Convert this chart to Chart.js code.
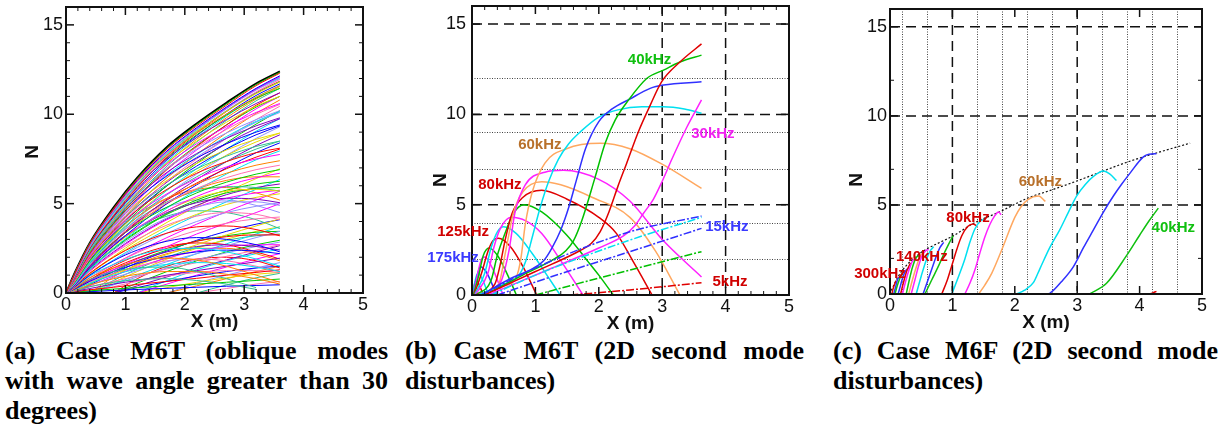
<!DOCTYPE html>
<html>
<head>
<meta charset="utf-8">
<script src="https://cdn.jsdelivr.net/npm/chart.js@4.4.1/dist/chart.umd.min.js"></script>
<style>
body { margin: 0; background: #fff; width: 1228px; height: 428px; position: relative; overflow: hidden; }
canvas { position: absolute; top: 0; }
.cap { position: absolute; top: 336px; font: bold 26px "Liberation Serif", "Times New Roman", serif; color: #000; line-height: 30px; }
.cap div { text-align: justify; text-align-last: justify; white-space: nowrap; }
.cap div.last { text-align: left; text-align-last: left; }
</style>
</head>
<body>
<canvas id="ca" width="400" height="335" style="left:0px"></canvas>
<canvas id="cb" width="410" height="335" style="left:400px"></canvas>
<canvas id="cc" width="418" height="335" style="left:810px"></canvas>

<div class="cap" style="left:5px;width:383px">
  <div>(a) Case M6T (oblique modes</div>
  <div>with wave angle greater than 30</div>
  <div class="last">degrees)</div>
</div>
<div class="cap" style="left:405px;width:399px">
  <div>(b) Case M6T (2D second mode</div>
  <div class="last">disturbances)</div>
</div>
<div class="cap" style="left:833px;width:385px">
  <div>(c) Case M6F (2D second mode</div>
  <div class="last">disturbances)</div>
</div>

<script>
// axes, shared by the three panels
var xTicks = [0, 1, 2, 3, 4, 5];
var yTicks = [0, 5, 10, 15];

// ---- panel (a): oblique modes, all sampled on the same x stations ----
var xA = [0, 0.15, 0.4, 0.8, 1.2, 1.7, 2.2, 2.7, 3.2, 3.6];
var envelopeA = [0, 1.15, 2.8, 4.78, 6.45, 8.17, 9.48, 10.64, 11.72, 12.4];
var upperA = [
    [0, 1.1, 2.75, 4.7, 6.35, 8.05, 9.35, 10.5, 11.6, 12.3],
    [0, 1.12, 2.78, 4.72, 6.4, 8.1, 9.42, 10.58, 11.66, 12.35],
    [0, 1.13, 2.76, 4.68, 6.3, 7.95, 9.25, 10.4, 11.45, 12.15],
    [0, 1.05, 2.7, 4.6, 6.25, 7.9, 9.2, 10.35, 11.4, 12.1],
    [0, 1.06, 2.66, 4.52, 6.12, 7.8, 9.15, 10.35, 11.4, 12.05],
    [0, 1.08, 2.72, 4.62, 6.2, 7.85, 9.05, 10.15, 11.15, 11.8],
    [0, 1.1, 2.7, 4.55, 6.1, 7.7, 8.95, 10.0, 10.95, 11.6],
    [0, 1.0, 2.6, 4.45, 6.05, 7.75, 9.1, 10.3, 11.35, 12.0],
    [0, 1.02, 2.62, 4.48, 6.08, 7.72, 9.02, 10.18, 11.18, 11.82],
    [0, 0.98, 2.55, 4.4, 6.0, 7.65, 9.0, 10.2, 11.25, 11.95],
    [0, 1.05, 2.65, 4.5, 6.0, 7.5, 8.7, 9.7, 10.6, 11.2],
    [0, 0.95, 2.5, 4.3, 5.9, 7.6, 8.95, 10.15, 11.2, 11.85],
    [0, 0.97, 2.52, 4.35, 5.95, 7.55, 8.85, 9.95, 10.9, 11.45],
    [0, 0.92, 2.48, 4.25, 5.8, 7.45, 8.8, 10.0, 11.05, 11.7],
    [0, 1.0, 2.55, 4.3, 5.75, 7.2, 8.35, 9.3, 10.1, 10.6],
    [0, 0.9, 2.4, 4.15, 5.7, 7.35, 8.7, 9.9, 10.95, 11.6],
    [0, 0.93, 2.45, 4.22, 5.75, 7.3, 8.5, 9.55, 10.45, 11.0],
    [0, 0.88, 2.38, 4.1, 5.6, 7.25, 8.6, 9.8, 10.85, 11.55],
    [0, 0.95, 2.45, 4.15, 5.55, 6.95, 8.05, 8.95, 9.7, 10.2],
    [0, 0.85, 2.3, 4.0, 5.5, 7.1, 8.45, 9.65, 10.75, 11.45],
    [0, 0.87, 2.33, 4.05, 5.55, 7.0, 8.15, 9.15, 10.0, 10.55],
    [0, 0.9, 2.35, 4.0, 5.4, 6.75, 7.8, 8.65, 9.35, 9.8],
    [0, 0.8, 2.2, 3.85, 5.3, 6.9, 8.2, 9.4, 10.5, 11.2],
    [0, 0.83, 2.25, 3.92, 5.4, 6.95, 8.25, 9.4, 10.4, 11.0],
    [0, 0.9, 2.3, 3.9, 5.25, 6.55, 7.55, 8.35, 9.0, 9.4],
    [0, 0.75, 2.1, 3.7, 5.15, 6.7, 8.0, 9.2, 10.3, 11.0],
    [0, 0.78, 2.15, 3.78, 5.2, 6.6, 7.75, 8.75, 9.6, 10.15],
    [0, 0.85, 2.2, 3.75, 5.05, 6.3, 7.25, 8.0, 8.6, 8.95],
    [0, 0.7, 2.0, 3.55, 4.95, 6.45, 7.75, 8.95, 10.05, 10.8],
    [0, 0.73, 2.05, 3.62, 5.0, 6.45, 7.6, 8.65, 9.55, 10.1],
    [0, 0.8, 2.1, 3.6, 4.85, 6.05, 6.95, 7.65, 8.2, 8.5],
    [0, 0.65, 1.9, 3.4, 4.75, 6.25, 7.5, 8.65, 9.7, 10.45],
    [0, 0.68, 1.95, 3.5, 4.85, 6.2, 7.35, 8.35, 9.2, 9.75],
    [0, 0.75, 2.0, 3.45, 4.65, 5.8, 6.7, 7.35, 7.85, 8.1],
    [0, 0.6, 1.8, 3.25, 4.55, 6.0, 7.25, 8.4, 9.45, 10.2],
    [0, 0.63, 1.85, 3.35, 4.65, 6.0, 7.1, 8.05, 8.85, 9.35],
    [0, 0.7, 1.9, 3.3, 4.45, 5.55, 6.4, 7.05, 7.5, 7.75],
    [0, 0.55, 1.7, 3.1, 4.35, 5.75, 6.95, 8.05, 9.05, 9.75],
    [0, 0.58, 1.75, 3.2, 4.45, 5.75, 6.8, 7.7, 8.45, 8.95],
    [0, 0.65, 1.8, 3.15, 4.25, 5.3, 6.1, 6.7, 7.15, 7.4],
    [0, 0.5, 1.6, 2.95, 4.15, 5.5, 6.65, 7.7, 8.65, 9.3],
    [0, 0.53, 1.65, 3.05, 4.25, 5.5, 6.5, 7.35, 8.05, 8.5],
    [0, 0.6, 1.7, 3.0, 4.05, 5.05, 5.85, 6.45, 6.9, 7.15],
    [0, 0.48, 1.5, 2.8, 3.95, 5.25, 6.35, 7.35, 8.25, 8.85],
    [0, 0.47, 1.5, 2.85, 4.0, 5.2, 6.15, 6.95, 7.6, 8.05],
    [0, 0.55, 1.6, 2.85, 3.85, 4.8, 5.6, 6.2, 6.65, 6.9],
    [0, 0.45, 1.4, 2.65, 3.75, 5.0, 6.05, 7.0, 7.85, 8.4],
    [0, 0.5, 1.5, 2.7, 3.65, 4.6, 5.4, 6.0, 6.45, 6.7],
    [0, 0.42, 1.3, 2.5, 3.55, 4.75, 5.75, 6.65, 7.45, 7.95]
];
var lowerA = [
    [0, 0.5, 1.4, 2.6, 3.6, 4.6, 5.3, 5.7, 5.8, 5.7],
    [0, 0.55, 1.5, 2.8, 3.9, 5.0, 5.8, 6.3, 6.5, 6.5],
    [0, 0.45, 1.3, 2.4, 3.3, 4.2, 4.8, 5.1, 5.1, 4.9],
    [0, 0.6, 1.65, 3.0, 4.1, 5.1, 5.7, 5.95, 5.9, 5.7],
    [0, 0.4, 1.2, 2.2, 3.0, 3.8, 4.3, 4.5, 4.4, 4.1],
    [0, 0.5, 1.45, 2.65, 3.6, 4.5, 5.05, 5.3, 5.25, 5.05],
    [0, 0.4, 1.1, 2.0, 2.7, 3.35, 3.7, 3.75, 3.55, 3.2],
    [0, 0.45, 1.3, 2.45, 3.4, 4.4, 5.1, 5.6, 5.85, 5.9],
    [0, 0.35, 1.0, 1.8, 2.4, 2.9, 3.1, 3.0, 2.7, 2.3],
    [0, 0.4, 1.2, 2.25, 3.15, 4.1, 4.8, 5.3, 5.6, 5.75],
    [0, 0.35, 0.95, 1.6, 2.1, 2.45, 2.5, 2.3, 1.9, 1.5],
    [0, 0.35, 1.05, 2.0, 2.8, 3.7, 4.4, 4.95, 5.35, 5.55],
    [0, 0.3, 0.85, 1.4, 1.75, 1.95, 1.85, 1.5, 1.0, 0.6],
    [0, 0.3, 0.95, 1.8, 2.55, 3.35, 4.0, 4.5, 4.85, 5.05],
    [0, 0.3, 0.75, 1.2, 1.4, 1.45, 1.2, 0.8, 0.3, null],
    [0, 0.28, 0.85, 1.6, 2.25, 2.95, 3.5, 3.9, 4.15, 4.25],
    [0, 0.45, 1.25, 2.3, 3.2, 4.15, 4.9, 5.5, 5.9, 6.1],
    [0, 0.25, 0.75, 1.4, 1.95, 2.5, 2.9, 3.15, 3.25, 3.25],
    [0, 0.5, 1.35, 2.5, 3.45, 4.45, 5.2, 5.75, 6.1, 6.25],
    [0, 0.22, 0.65, 1.2, 1.65, 2.05, 2.3, 2.4, 2.35, 2.2],
    [0, 0.25, 0.7, 1.3, 1.9, 2.6, 3.3, 3.9, 4.5, 5.0],
    [0, 0.2, 0.55, 1.0, 1.35, 1.6, 1.7, 1.65, 1.45, 1.2],
    [0, 0.2, 0.55, 1.05, 1.55, 2.15, 2.7, 3.25, 3.75, 4.15],
    [0, 0.15, 0.45, 0.8, 1.05, 1.2, 1.2, 1.05, 0.8, 0.5],
    [0, 0.15, 0.45, 0.85, 1.25, 1.75, 2.2, 2.65, 3.1, 3.45],
    [0, 0.12, 0.35, 0.6, 0.75, 0.8, 0.7, 0.5, 0.2, null],
    [0, 0.12, 0.35, 0.65, 0.95, 1.35, 1.7, 2.05, 2.4, 2.7],
    [0, 0.1, 0.25, 0.5, 0.7, 1.0, 1.25, 1.5, 1.75, 1.95],
    [0, 0.08, 0.18, 0.32, 0.48, 0.65, 0.82, 1.0, 1.15, 1.3],
    [0, 0.05, 0.12, 0.22, 0.3, 0.4, 0.5, 0.6, 0.7, 0.78],
    [0, 0.03, 0.08, 0.14, 0.2, 0.26, 0.32, 0.38, 0.42, 0.46],
    [0, 0.3, 0.85, 1.6, 2.3, 3.1, 3.85, 4.55, 5.2, 5.7],
    [0, 0.35, 1.0, 1.85, 2.65, 3.55, 4.35, 5.1, 5.8, 6.35],
    [0, 0.38, 1.1, 2.05, 2.95, 3.95, 4.85, 5.65, 6.4, 6.95],
    [0, 0.7, 1.9, 3.3, 4.4, 5.3, 5.8, 5.9, 5.6, 5.2],
    [0, 0.65, 1.75, 3.05, 4.0, 4.8, 5.2, 5.2, 4.9, 4.5],
    [0, 0.6, 1.6, 2.75, 3.6, 4.3, 4.6, 4.5, 4.1, 3.6],
    [0, 0.2, 0.6, 1.1, 1.5, 1.8, 1.9, 1.8, 1.5, 1.2],
    [0, 0.25, 0.7, 1.3, 1.8, 2.3, 2.6, 2.7, 2.6, 2.4],
    [null, 0, 0.7, 1.5, 2.1, 2.6, 2.8, 2.7, 2.3, 1.9],
    [null, 0, 0.5, 1.2, 1.8, 2.4, 2.9, 3.2, 3.4, 3.45],
    [null, 0, 0.45, 1.1, 1.7, 2.35, 2.95, 3.45, 3.85, 4.1],
    [null, 0, 0.4, 0.95, 1.45, 1.95, 2.35, 2.6, 2.7, 2.7],
    [null, null, 0, 0.5, 1.0, 1.6, 2.2, 2.75, 3.3, 3.7],
    [null, null, 0, 0.6, 1.2, 1.9, 2.5, 3.0, 3.45, 3.7],
    [null, null, 0, 0.9, 1.6, 2.2, 2.5, 2.5, 2.2, 1.8],
    [null, null, 0, 0.45, 0.9, 1.4, 1.85, 2.25, 2.6, 2.85],
    [null, null, 0, 0.7, 1.35, 2.0, 2.55, 2.95, 3.2, 3.3],
    [null, null, 0, 0.35, 0.65, 0.95, 1.15, 1.25, 1.25, 1.15],
    [null, null, null, 0, 0.4, 0.9, 1.4, 1.85, 2.3, 2.65],
    [null, null, null, 0, 0.8, 1.5, 1.9, 2.0, 1.8, 1.4],
    [null, null, null, 0, 0.55, 1.2, 1.8, 2.3, 2.7, 2.95],
    [null, null, null, 0, 0.3, 0.65, 0.95, 1.2, 1.4, 1.5],
    [null, null, null, null, 0, 0.5, 1.0, 1.45, 1.9, 2.2],
    [null, null, null, null, 0, 0.7, 1.3, 1.8, 2.2, 2.45],
    [null, null, null, null, 0, 0.3, 0.6, 0.85, 1.05, 1.15],
    [null, null, null, null, null, 0, 0.4, 0.8, 1.2, 1.5],
    [null, null, null, null, null, 0, 0.55, 1.0, 1.4, 1.7],
    [null, null, null, null, null, null, 0, 0.45, 0.85, 1.1],
    [null, null, null, null, null, null, 0, 0.25, 0.5, 0.65]
];
var colorsA = ["#ff0000", "#00cc00", "#0000ff", "#ff00ff", "#00e0f0", "#e8d800", "#ff8000", "#9090ff", "#30c090", "#ff70b0", "#8000c0"];

// ---- panel (b): 2D second mode, M6T, [x, N] points for each frequency ----
var curvesB = [
    [[1.55, 0], [2.49, 0.28], [3.62, 0.68]],
    [[1.0, 0], [1.8, 0.75], [2.49, 1.38], [3.62, 2.4]],
    [[0.4, 0], [1.2, 0.95], [2.49, 2.4], [3.62, 3.69]],
    [[0.3, 0], [1.0, 1.1], [2.49, 3.04], [3.62, 4.3]],
    [[0.15, 0], [1.0, 1.5], [2.49, 3.5], [3.62, 4.37]],
    [[0.25, 0], [1.2, 1.4], [2.0, 2.6], [2.4, 3.3], [2.56, 3.8], [2.7, 4.5], [2.86, 5.3], [3.0, 6.3], [3.15, 7.5], [3.39, 9.3], [3.62, 10.8]],
    [[0.2, 0], [1.0, 1.3], [1.7, 2.45], [1.88, 2.85], [2.02, 3.5], [2.16, 4.6], [2.3, 6.0], [2.44, 7.3], [2.62, 9.0], [2.81, 10.5], [2.99, 11.8], [3.28, 12.9], [3.62, 13.9]],
    [[0.2, 0], [0.8, 1.1], [1.3, 2.0], [1.48, 2.45], [1.6, 3.0], [1.73, 4.1], [1.94, 6.5], [2.1, 8.4], [2.26, 9.7], [2.47, 10.8], [2.76, 12.0], [3.02, 12.45], [3.28, 12.9], [3.62, 13.28]],
    [[0.15, 0], [0.6, 0.9], [0.95, 1.45], [1.13, 1.9], [1.26, 2.6], [1.4, 3.6], [1.53, 4.9], [1.65, 6.4], [1.79, 8.1], [2.0, 9.6], [2.21, 10.3], [2.49, 10.85], [2.81, 11.44], [3.02, 11.62], [3.62, 11.8]],
    [[0.1, 0], [0.5, 0.6], [0.72, 1.0], [0.85, 1.9], [0.95, 3.2], [1.08, 4.9], [1.21, 6.3], [1.36, 7.5], [1.52, 8.35], [1.73, 9.1], [2.0, 9.85], [2.3, 10.25], [2.68, 10.42], [3.02, 10.42], [3.35, 10.3], [3.62, 10.06]],
    [[0.1, 0], [0.5, 0.5], [0.7, 1.0], [0.77, 2.0], [0.84, 3.9], [0.95, 5.7], [1.15, 7.3], [1.49, 8.1], [2.02, 8.4], [2.49, 8.1], [3.02, 7.2], [3.62, 5.9]],
    [[0.1, 0], [0.45, 0.7], [0.58, 2.4], [0.68, 4.6], [0.84, 6.1], [1.15, 6.8], [1.44, 6.9], [2.0, 6.4], [2.49, 5.2], [3.02, 3.0], [3.62, 1.0]],
    [[0.1, 0], [0.42, 0.6], [0.53, 2.4], [0.65, 4.5], [0.8, 5.7], [1.1, 6.27], [1.4, 6.1], [1.9, 5.4], [2.49, 4.3], [2.9, 2.4], [3.28, 0]],
    [[0.08, 0], [0.36, 0.6], [0.44, 1.6], [0.52, 3.0], [0.63, 4.5], [0.8, 5.4], [1.1, 5.8], [1.5, 5.3], [2.0, 4.3], [2.28, 3.4], [2.55, 1.8], [2.84, 0]],
    [[0.06, 0], [0.3, 0.8], [0.4, 2.2], [0.52, 3.4], [0.65, 4.5], [0.82, 5.0], [1.1, 4.6], [1.5, 3.3], [1.81, 1.94], [2.0, 1.1], [2.23, 0]],
    [[0.05, 0], [0.25, 1.2], [0.35, 2.7], [0.45, 3.7], [0.62, 4.3], [0.85, 4.1], [1.1, 3.4], [1.4, 1.9], [1.75, 0]],
    [[0.04, 0], [0.2, 1.2], [0.3, 2.6], [0.4, 3.5], [0.5, 3.78], [0.7, 3.4], [0.95, 2.3], [1.2, 1.0], [1.39, 0]],
    [[0.03, 0], [0.15, 1.2], [0.25, 2.4], [0.33, 3.0], [0.42, 3.14], [0.6, 2.7], [0.8, 1.6], [1.02, 0]],
    [[0.02, 0], [0.1, 1.0], [0.18, 2.2], [0.27, 2.6], [0.4, 2.2], [0.55, 1.2], [0.7, 0]],
    [[0.02, 0], [0.08, 1.0], [0.14, 1.9], [0.2, 2.1], [0.32, 1.5], [0.49, 0]],
    [[0.02, 0], [0.07, 0.9], [0.13, 1.57], [0.22, 1.3], [0.39, 0]],
    [[0.01, 0], [0.05, 0.8], [0.09, 1.2], [0.16, 0.9], [0.26, 0]],
    [[0.01, 0], [0.04, 0.6], [0.07, 0.8], [0.12, 0.5], [0.18, 0]]
];
var colorsB = ["#e00000", "#00c000", "#3030ff", "#00e0f0", "#3030ff", "#ff20ff", "#e00000", "#00c000", "#3030ff",
    "#00e0f0", "#ffa860", "#ff20ff", "#ffa860", "#e00000", "#00c000", "#ff20ff", "#00e0f0", "#e00000", "#00c000",
    "#ff20ff", "#3030ff", "#00e0f0", "#e00000"];
var labelTextB = ["40kHz", "30kHz", "60kHz", "80kHz", "125kHz", "175kHz", "15kHz", "5kHz"];
var labelXB = [2.80, 3.80, 1.07, 0.44, -0.14, -0.30, 4.02, 4.07];
var labelYB = [13.0, 8.91, 8.3, 6.09, 3.49, 2.05, 3.76, 0.72];
var labelColorB = ["#10c010", "#f020f0", "#b8702a", "#d00000", "#d00000", "#3a3aff", "#3a3aff", "#d00000"];

// ---- panel (c): 2D second mode, M6F ----
var envelopeC = [[0.02, 0.2], [0.13, 0.97], [0.25, 1.55], [0.43, 2.15], [0.6, 2.55], [0.8, 2.9], [1.01, 3.26], [1.34, 3.97],
    [1.76, 4.62], [2.22, 5.4], [2.59, 5.84], [3.0, 6.35], [3.39, 6.87], [3.8, 7.4], [4.11, 7.75], [4.81, 8.47]];
var curvesC = [
    [[4.17, 0], [4.22, 0.08], [4.27, 0.15]],
    [[3.2, 0], [3.47, 0.6], [3.79, 2.15], [4.0, 3.3], [4.15, 4.1], [4.3, 4.82]],
    [[2.5, 0], [2.56, 0.04], [2.75, 0.7], [2.94, 1.54], [3.1, 2.6], [3.26, 3.6], [3.42, 4.6], [3.58, 5.5], [3.72, 6.2], [3.85, 6.8], [4.06, 7.7], [4.15, 7.85], [4.27, 7.87]],
    [[2.03, 0], [2.15, 0.2], [2.3, 0.65], [2.4, 1.4], [2.56, 2.6], [2.72, 3.6], [2.86, 4.6], [2.99, 5.5], [3.13, 6.15], [3.26, 6.6], [3.42, 6.9], [3.52, 6.75], [3.63, 6.37]],
    [[1.42, 0], [1.52, 0.5], [1.63, 1.16], [1.79, 2.47], [2.0, 4.3], [2.1, 4.9], [2.21, 5.3], [2.38, 5.5], [2.49, 5.2]],
    [[1.2, 0], [1.28, 0.6], [1.36, 1.35], [1.44, 2.3], [1.52, 3.2], [1.6, 3.9], [1.68, 4.4], [1.74, 4.6], [1.78, 4.45]],
    [[0.99, 0], [1.1, 1.0], [1.2, 1.97], [1.28, 2.9], [1.36, 3.65], [1.45, 4.1], [1.52, 4.2]],
    [[0.83, 0], [0.92, 0.8], [0.99, 1.59], [1.07, 2.5], [1.15, 3.27], [1.25, 3.8], [1.33, 3.93], [1.38, 3.85]],
    [[0.56, 0], [0.67, 0.8], [0.78, 1.59], [0.87, 2.3], [0.94, 2.8], [1.01, 3.27]],
    [[0.53, 0], [0.6, 0.7], [0.67, 1.4], [0.74, 2.1], [0.8, 2.6], [0.86, 2.9]],
    [[0.42, 0], [0.5, 1.0], [0.58, 1.9], [0.64, 2.4], [0.7, 2.65]],
    [[0.34, 0], [0.4, 0.8], [0.46, 1.6], [0.52, 2.2], [0.58, 2.45], [0.62, 2.5]],
    [[0.3, 0], [0.36, 0.8], [0.42, 1.5], [0.48, 2.1], [0.54, 2.35]],
    [[0.26, 0], [0.31, 0.8], [0.36, 1.5], [0.42, 2.05], [0.47, 2.15]],
    [[0.2, 0], [0.25, 0.7], [0.3, 1.3], [0.36, 1.85], [0.42, 2.0]],
    [[0.17, 0], [0.22, 0.7], [0.27, 1.3], [0.33, 1.75]],
    [[0.13, 0], [0.17, 0.5], [0.21, 1.0], [0.26, 1.35], [0.3, 1.45]],
    [[0.08, 0], [0.12, 0.5], [0.16, 0.9], [0.2, 1.15]],
    [[0.06, 0], [0.09, 0.4], [0.12, 0.8], [0.15, 0.95]],
    [[0.03, 0], [0.05, 0.3], [0.08, 0.6], [0.1, 0.75]]
];
var colorsC = ["#e00000", "#10c010", "#3030ff", "#00e0f0", "#ffa860", "#ff20ff", "#00e0f0", "#e00000", "#10c010", "#3030ff",
    "#00e0f0", "#ff20ff", "#ffa860", "#10c010", "#ff20ff", "#e00000", "#3030ff", "#10c010", "#3030ff", "#e00000"];
var labelTextC = ["60kHz", "80kHz", "140kHz", "300kHz", "40kHz"];
var labelXC = [2.41, 1.25, 0.51, -0.16, 4.54];
var labelYC = [6.31, 4.25, 2.1, 1.12, 3.69];
var labelColorC = ["#b8702a", "#d00000", "#d00000", "#d00000", "#10c010"];

var fontSans = '"Liberation Sans", Arial, sans-serif';

function pointLine(points, color, width, dash) {
    return {
        data: points.map(function (p) { return { x: p[0], y: p[1] }; }),
        borderColor: color, borderWidth: width, borderDash: dash || [],
        pointRadius: 0, fill: false, tension: 0.4, cubicInterpolationMode: "monotone"
    };
}

function gridLine(xs, ys) {
    return xs.map(function (x, i) { return { x: x, y: ys[i] }; });
}

// frame, inward ticks, dashed/dotted reference lines and text labels
function decoPlugin(cfg) {
    function seg(ctx, x1, y1, x2, y2) {
        ctx.beginPath(); ctx.moveTo(x1, y1); ctx.lineTo(x2, y2); ctx.stroke();
    }
    return {
        id: "deco",
        beforeDatasetsDraw: function (chart) {
            var ctx = chart.ctx, a = chart.chartArea, sx = chart.scales.x, sy = chart.scales.y;
            ctx.save();
            ctx.strokeStyle = "#444"; ctx.lineWidth = 1; ctx.setLineDash([1, 1.5]);
            (cfg.hDot || []).forEach(function (v) { var p = Math.round(sy.getPixelForValue(v)) + 0.5; seg(ctx, a.left, p, a.right, p); });
            (cfg.vDot || []).forEach(function (v) { var p = Math.round(sx.getPixelForValue(v)) + 0.5; seg(ctx, p, a.top, p, a.bottom); });
            ctx.strokeStyle = "#111"; ctx.lineWidth = 1.5; ctx.setLineDash([10, 6]);
            (cfg.hDash || []).forEach(function (v) { var p = sy.getPixelForValue(v); seg(ctx, a.left, p, a.right, p); });
            (cfg.vDash || []).forEach(function (v) { var p = sx.getPixelForValue(v); seg(ctx, p, a.top, p, a.bottom); });
            ctx.restore();
        },
        afterDatasetsDraw: function (chart) {
            var ctx = chart.ctx, a = chart.chartArea, sx = chart.scales.x, sy = chart.scales.y;
            ctx.save();
            ctx.strokeStyle = "#111"; ctx.lineWidth = 1.5;
            xTicks.forEach(function (v) {
                var p = sx.getPixelForValue(v);
                seg(ctx, p, a.bottom, p, a.bottom - 8); seg(ctx, p, a.top, p, a.top + 8);
            });
            yTicks.forEach(function (v) {
                var p = sy.getPixelForValue(v);
                seg(ctx, a.left, p, a.left + 8, p); seg(ctx, a.right, p, a.right - 8, p);
            });
            ctx.lineWidth = 1;
            (cfg.xMinor || []).forEach(function (v) {
                var p = sx.getPixelForValue(v);
                seg(ctx, p, a.bottom, p, a.bottom - 4); seg(ctx, p, a.top, p, a.top + 4);
            });
            (cfg.yMinor || []).forEach(function (v) {
                var p = sy.getPixelForValue(v);
                seg(ctx, a.left, p, a.left + 4, p); seg(ctx, a.right, p, a.right - 4, p);
            });
            ctx.lineWidth = 2;
            ctx.strokeRect(a.left, a.top, a.right - a.left, a.bottom - a.top);
            ctx.restore();
        },
        afterDraw: function (chart) {
            var ctx = chart.ctx, a = chart.chartArea, sx = chart.scales.x, sy = chart.scales.y;
            ctx.save();
            ctx.textAlign = "center"; ctx.textBaseline = "middle";
            ctx.font = "bold 15px " + fontSans;
            (cfg.labels || []).forEach(function (t, i) {
                ctx.fillStyle = cfg.labelColors[i];
                ctx.fillText(t, sx.getPixelForValue(cfg.labelX[i]), sy.getPixelForValue(cfg.labelY[i]));
            });
            ctx.fillStyle = "#111";
            ctx.font = "bold 19px " + fontSans;
            ctx.fillText("X (m)", (a.left + a.right) / 2, a.bottom + 29);
            ctx.translate(a.left - cfg.nOff, sy.getPixelForValue(cfg.nY));
            ctx.rotate(-Math.PI / 2);
            ctx.fillText("N", 0, 0);
            ctx.restore();
        }
    };
}

function makeChart(id, datasets, cfg) {
    var tickFont = { family: fontSans, size: 18 };
    return new Chart(document.getElementById(id), {
        type: "line",
        data: { datasets: datasets },
        options: {
            responsive: false, animation: false, events: [],
            layout: { padding: { top: cfg.top, right: cfg.right, left: 0, bottom: 0 } },
            plugins: { legend: { display: false }, tooltip: { enabled: false } },
            scales: {
                x: {
                    type: "linear", min: 0, max: 5,
                    grid: { display: false, drawTicks: false }, border: { display: false },
                    afterBuildTicks: function (s) { s.ticks = xTicks.map(function (v) { return { value: v }; }); },
                    afterFit: function (s) { s.height = cfg.xh; s.paddingLeft = 0; s.paddingRight = 0; },
                    ticks: { font: tickFont, color: "#111", padding: 1, maxRotation: 0, autoSkip: false }
                },
                y: {
                    type: "linear", min: 0, max: 16,
                    grid: { display: false, drawTicks: false }, border: { display: false },
                    afterBuildTicks: function (s) { s.ticks = yTicks.map(function (v) { return { value: v }; }); },
                    afterFit: function (s) { s.width = cfg.yw; s.paddingTop = 0; s.paddingBottom = 0; },
                    ticks: { font: tickFont, color: "#111", padding: cfg.ypad, autoSkip: false }
                }
            }
        },
        plugins: [decoPlugin(cfg)]
    });
}

var minorX = [];
for (var m = 1; m < 25; m++) { if (m % 5 !== 0) minorX.push(m / 5); }

// panel (a)
var setsA = [];
upperA.concat(lowerA).forEach(function (ys, i) {
    setsA.push({
        data: gridLine(xA, ys), borderColor: colorsA[i % colorsA.length], borderWidth: 1,
        pointRadius: 0, fill: false, tension: 0.4, cubicInterpolationMode: "monotone", spanGaps: false
    });
});
setsA.push({
    data: gridLine(xA, envelopeA), borderColor: "#000", borderWidth: 2,
    pointRadius: 0, fill: false, tension: 0.4, cubicInterpolationMode: "monotone"
});
makeChart("ca", setsA, {
    top: 7, right: 37, xh: 42, yw: 66, ypad: 3, nOff: 33, nY: 7.9,
    xMinor: minorX, yMinor: [1, 2, 3, 4, 6, 7, 8, 9, 11, 12, 13, 14, 16]
});

// panel (b)
var setsB = curvesB.map(function (pts, i) {
    return pointLine(pts, colorsB[i], 1.5, i < 5 ? [8, 2, 2, 2] : []);
});
makeChart("cb", setsB, {
    top: 6, right: 21, xh: 40, yw: 72, ypad: 6, nOff: 31, nY: 6.36,
    hDash: [5, 10, 15], hDot: [2, 4, 7, 9, 12], vDash: [3, 4], xMinor: minorX,
    labels: labelTextB, labelX: labelXB, labelY: labelYB, labelColors: labelColorB
});

// panel (c)
var setsC = curvesC.map(function (pts, i) { return pointLine(pts, colorsC[i], 1.5); });
setsC.push(pointLine(envelopeC, "#111", 1.2, [2, 2]));
makeChart("cc", setsC, {
    top: 9, right: 26, xh: 41, yw: 80, ypad: 3, nOff: 33, nY: 6.4,
    hDash: [5, 10, 15], vDash: [1, 3], vDot: [0.2, 0.6, 1.4, 1.8, 2.2, 2.6, 3.4, 3.8, 4.2, 4.6], yMinor: [2, 7, 12],
    labels: labelTextC, labelX: labelXC, labelY: labelYC, labelColors: labelColorC
});
</script>
</body>
</html>
